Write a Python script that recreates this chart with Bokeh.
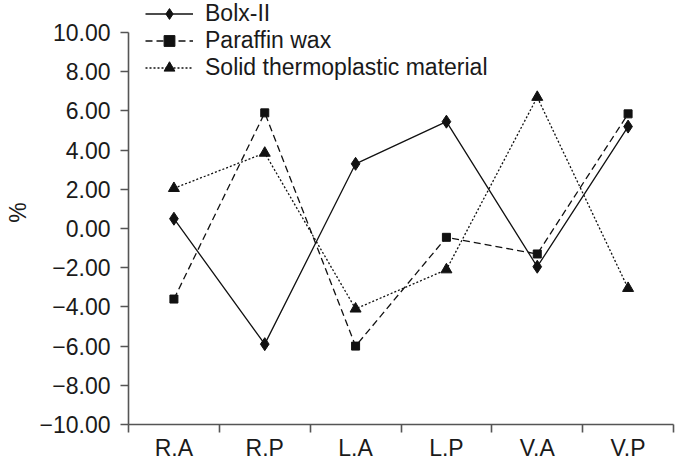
from bokeh.plotting import figure
from bokeh.models import (Range1d, FixedTicker, CustomJSTickFormatter, Legend, LegendItem)
from bokeh.embed import file_html
from bokeh.resources import INLINE

categories = ["R.A", "R.P", "L.A", "L.P", "V.A", "V.P"]
bolx_ii = [0.5, -5.9, 3.3, 5.45, -1.95, 5.2]
paraffin_wax = [-3.6, 5.9, -6.0, -0.45, -1.3, 5.85]
solid_thermo = [2.05, 3.85, -4.1, -2.1, 6.7, -3.05]
y_ticks = [-10, -8, -6, -4, -2, 0, 2, 4, 6, 8, 10]

FONT = "Liberation Sans"
FS = "23px"
INK = "#1a1a1a"

xpos = [i + 0.5 for i in range(len(categories))]
bounds = list(range(len(categories) + 1))

# frame spans the full top so the legend (drawn inside the frame) is not clipped;
# the extra headroom above 10 places the value 10 at ~32px from the top
p = figure(width=681, height=463, output_backend="svg", toolbar_location=None,
           x_range=Range1d(0, len(categories)), y_range=Range1d(-10, 11.633),
           min_border_left=128, min_border_right=8, min_border_top=0, min_border_bottom=39)
p.background_fill_color = "white"
p.border_fill_color = "white"
p.outline_line_color = None
p.grid.visible = False

xa = p.xaxis[0]
xa.ticker = FixedTicker(ticks=xpos, minor_ticks=bounds)
xa.major_label_overrides = {x: c for x, c in zip(xpos, categories)}
xa.major_tick_out = 0
xa.major_tick_in = 0
xa.minor_tick_out = 8
xa.minor_tick_in = 0
xa.major_label_standoff = 2

ya = p.yaxis[0]
ya.ticker = FixedTicker(ticks=y_ticks, minor_ticks=[])
ya.bounds = (-10, 10)
ya.formatter = CustomJSTickFormatter(code="return (tick < 0 ? '\\u2212' : '') + Math.abs(tick).toFixed(2);")
ya.major_tick_out = 8
ya.major_tick_in = 0
ya.minor_tick_out = 0
ya.minor_tick_in = 0
ya.major_label_standoff = 10
ya.axis_label = "%"
ya.axis_label_standoff = 6
ya.axis_label_text_font_style = "normal"

for ax in (xa, ya):
    ax.axis_line_color = "#555555"
    ax.axis_line_width = 1.6
    ax.major_tick_line_color = "#555555"
    ax.major_tick_line_width = 1.6
    ax.minor_tick_line_color = "#555555"
    ax.minor_tick_line_width = 1.6
    ax.major_label_text_font = FONT
    ax.major_label_text_font_size = FS
    ax.major_label_text_color = INK
    ax.axis_label_text_font = FONT
    ax.axis_label_text_font_size = FS
    ax.axis_label_text_color = INK

LC = "#111111"
l1 = p.line(xpos, bolx_ii, line_color=LC, line_width=1.3)
m1 = p.scatter(xpos, bolx_ii, marker="diamond", size=13, fill_color=LC, line_color=LC)
l2 = p.line(xpos, paraffin_wax, line_color=LC, line_width=1.3, line_dash="7 4")
m2 = p.scatter(xpos, paraffin_wax, marker="square", size=8, fill_color=LC, line_color=LC)
l3 = p.line(xpos, solid_thermo, line_color=LC, line_width=1.3, line_dash="2 2")
m3 = p.scatter(xpos, solid_thermo, marker="triangle", size=11, fill_color=LC, line_color=LC)

legend = Legend(items=[
    LegendItem(label="Bolx-II", renderers=[l1, m1]),
    LegendItem(label="Paraffin wax", renderers=[l2, m2]),
    LegendItem(label="Solid thermoplastic material", renderers=[l3, m3]),
], location=(17, 343), orientation="vertical")
legend.glyph_width = 48
legend.glyph_height = 27
legend.label_height = 27
legend.label_standoff = 12
legend.spacing = 0
legend.padding = 0
legend.margin = 0
legend.border_line_color = None
legend.background_fill_alpha = 0
legend.label_text_font = FONT
legend.label_text_font_size = FS
legend.label_text_color = INK
p.add_layout(legend, "center")

open("out.html", "w").write(file_html(p, INLINE))
